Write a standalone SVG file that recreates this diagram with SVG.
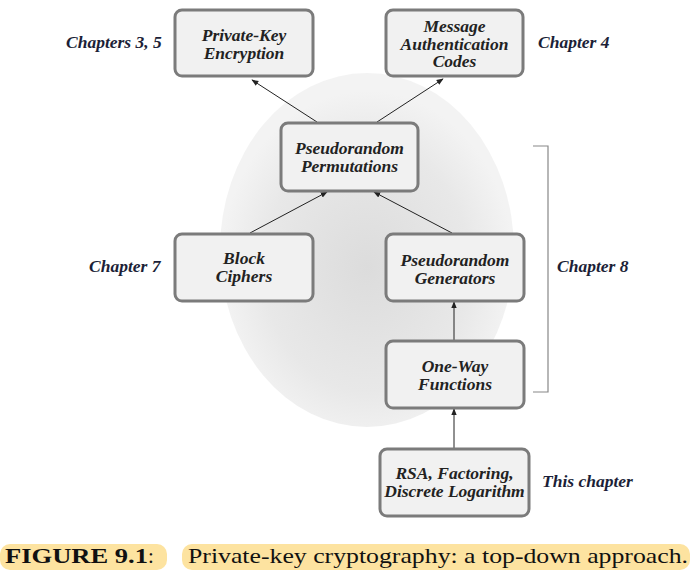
<svg xmlns="http://www.w3.org/2000/svg" width="696" height="579" viewBox="0 0 696 579">
<defs>
<radialGradient id="bg" cx="0.5" cy="0.55" r="0.5">
<stop offset="0" stop-color="#dcdcdc"/>
<stop offset="0.7" stop-color="#e8e8e8"/>
<stop offset="1" stop-color="#f3f3f3"/>
</radialGradient>
<marker id="ah" viewBox="0 0 10 10" refX="9" refY="5" markerWidth="7" markerHeight="7" orient="auto" markerUnits="userSpaceOnUse">
<path d="M0,1 L10,5 L0,9 z" fill="#222"/>
</marker>
<style>
.box{fill:#f1f1f1;stroke:#7b7b7b;stroke-width:3}
.nt{font-family:"Liberation Serif","Times New Roman",serif;font-weight:bold;font-style:italic;font-size:17.5px;fill:#222;text-anchor:middle}
.lb{font-family:"Liberation Serif","Times New Roman",serif;font-weight:bold;font-style:italic;font-size:17.5px;fill:#1c1f38}
.cn{stroke:#222;stroke-width:1;fill:none;marker-end:url(#ah)}
.cap{font-family:"Liberation Serif","Times New Roman",serif;font-size:21px;fill:#111}
</style>
</defs>
<rect width="696" height="579" fill="#fff"/>
<ellipse cx="367" cy="250" rx="147" ry="177" fill="url(#bg)"/>
<path d="M533,146 H548 V392 H533" fill="none" stroke="#888" stroke-width="1.2"/>
<g id="connectors">
<line class="cn" x1="317" y1="122" x2="252" y2="80"/>
<line class="cn" x1="377" y1="122" x2="443" y2="79"/>
<line class="cn" x1="250" y1="233" x2="327" y2="192"/>
<line class="cn" x1="452" y1="233" x2="374" y2="192"/>
<line class="cn" x1="454" y1="340" x2="454" y2="302"/>
<line class="cn" x1="454" y1="448" x2="454" y2="409"/>
</g>
<g id="pke"><rect class="box" x="175" y="10" width="138" height="66" rx="7"/>
<text class="nt" x="244" y="41">Private-Key</text><text class="nt" x="244" y="59">Encryption</text></g>
<g id="mac"><rect class="box" x="386" y="10" width="137" height="66" rx="7"/>
<text class="nt" x="454.5" y="32">Message</text><text class="nt" x="454.5" y="50">Authentication</text><text class="nt" x="454.5" y="67">Codes</text></g>
<g id="prp"><rect class="box" x="281" y="123" width="137" height="68" rx="7"/>
<text class="nt" x="349.5" y="154">Pseudorandom</text><text class="nt" x="349.5" y="172">Permutations</text></g>
<g id="bc"><rect class="box" x="175" y="234" width="138" height="67" rx="7"/>
<text class="nt" x="244" y="264">Block</text><text class="nt" x="244" y="282">Ciphers</text></g>
<g id="prg"><rect class="box" x="386" y="234" width="138" height="67" rx="7"/>
<text class="nt" x="455" y="266">Pseudorandom</text><text class="nt" x="455" y="284">Generators</text></g>
<g id="owf"><rect class="box" x="386" y="341" width="138" height="67" rx="7"/>
<text class="nt" x="455" y="372">One-Way</text><text class="nt" x="455" y="390">Functions</text></g>
<g id="rsa"><rect class="box" x="380" y="449" width="149" height="67" rx="7"/>
<text class="nt" x="454.5" y="479">RSA, Factoring,</text><text class="nt" x="454.5" y="497">Discrete Logarithm</text></g>
<g id="labels">
<text class="lb" x="66" y="48">Chapters 3, 5</text>
<text class="lb" x="538" y="48">Chapter 4</text>
<text class="lb" x="89" y="272">Chapter 7</text>
<text class="lb" x="557" y="272">Chapter 8</text>
<text class="lb" x="542" y="487">This chapter</text>
</g>
<g id="caption">
<rect x="0" y="544" width="167" height="26" rx="10" fill="#fde3a0"/>
<rect x="182" y="544" width="508" height="26" rx="10" fill="#fde3a0"/>
<text class="cap" x="5" y="563"><tspan font-weight="bold" textLength="143" lengthAdjust="spacingAndGlyphs">FIGURE 9.1</tspan><tspan>:</tspan></text>
<text class="cap" x="188" y="563" textLength="500" lengthAdjust="spacingAndGlyphs">Private-key cryptography: a top-down approach.</text>
</g>
</svg>
